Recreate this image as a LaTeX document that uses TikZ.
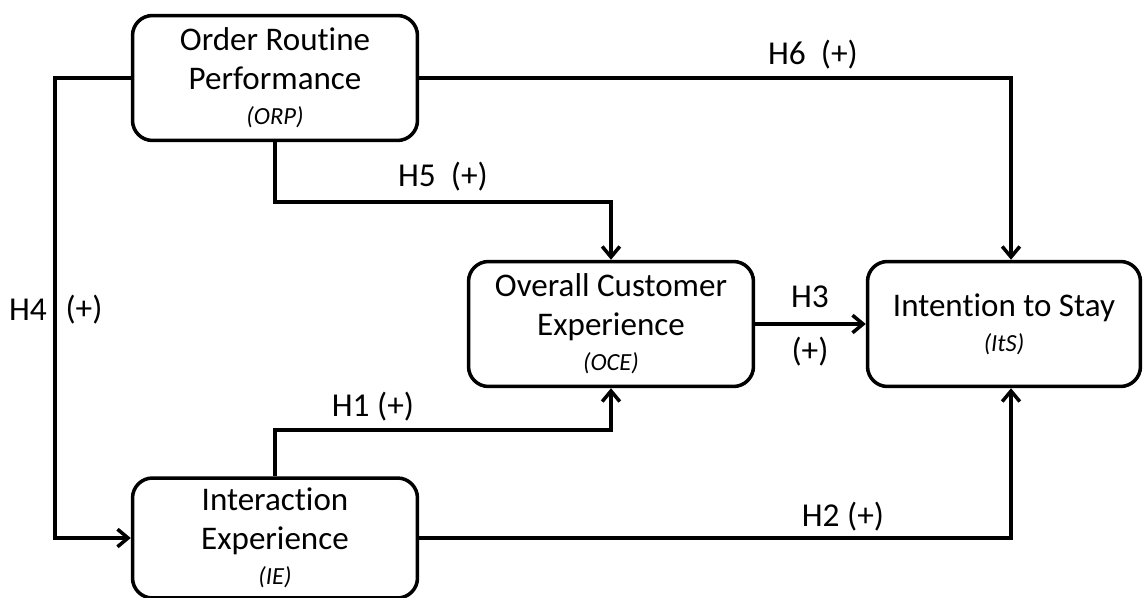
\documentclass[tikz,border=0pt]{standalone}
\usepackage{fontspec}
\setmainfont{Carlito}[Ligatures=NoCommon]
\usetikzlibrary{calc,arrows.meta}

\tikzset{
  construct/.style={draw, line width=2pt, rounded corners=0.4cm, align=center,
    minimum width=5.7cm, minimum height=2.5cm, inner sep=0pt,
    font=\fontsize{18.8}{22}\selectfont},
  link/.style={line width=2pt, -{Straight Barb[length=6pt,width=10pt]}},
  hyp/.style={font=\fontsize{19}{22}\selectfont, inner sep=1pt}
}
\newcommand{\abbr}[1]{\\[-2pt]{\fontsize{14}{16}\selectfont\itshape #1}}

\begin{document}
\begin{tikzpicture}[x=0.02cm, y=-0.02cm]
		\useasboundingbox (0,0) rectangle (1144,598);
		
		% constructs
		\node[construct] (ORP) at (275,78) {Order Routine\\Performance\abbr{(ORP)}};
		\node[construct] (OCE) at (611,324) {Overall Customer\\Experience\abbr{(OCE)}};
		\node[construct, minimum width=5.46cm] (ItS) at (1004,324) {Intention to Stay\abbr{(ItS)}};
		\node[construct, minimum height=2.4cm] (IE) at (275,538) {Interaction\\Experience\abbr{(IE)}};
		
		% hypotheses
		\draw[link] (ORP.east) -| ([xshift=0.14cm]ItS.north);
		\draw[link] (ORP.south) -- ++(0,60) -| (OCE.north);
		\draw[link] (ORP.west) -- ++(-76,0) |- (IE.west);
		\draw[link] (IE.north) -- ++(0,-46) -| (OCE.south);
		\draw[link] (IE.east) -| ([xshift=0.14cm]ItS.south);
		\draw[link] (OCE.east) -- (ItS.west);
		
		\node[hyp] (h6) at (813,55) {H6\ \ (+)};
		\node[hyp] (h5) at (443,177) {H5\ \ (+)};
		\node[hyp] (h1) at (373,407) {H1 (+)};
		\node[hyp] (h2) at (843,517) {H2 (+)};
		\node[hyp] (h3) at (810,297) {H3};
		\node[hyp] (h3s) at (810,352) {(+)};
		\node[hyp] (h4) at (28,310) {H4};
		\node[hyp] (h4s) at (84,310) {(+)};
	\end{tikzpicture}
\end{document}
